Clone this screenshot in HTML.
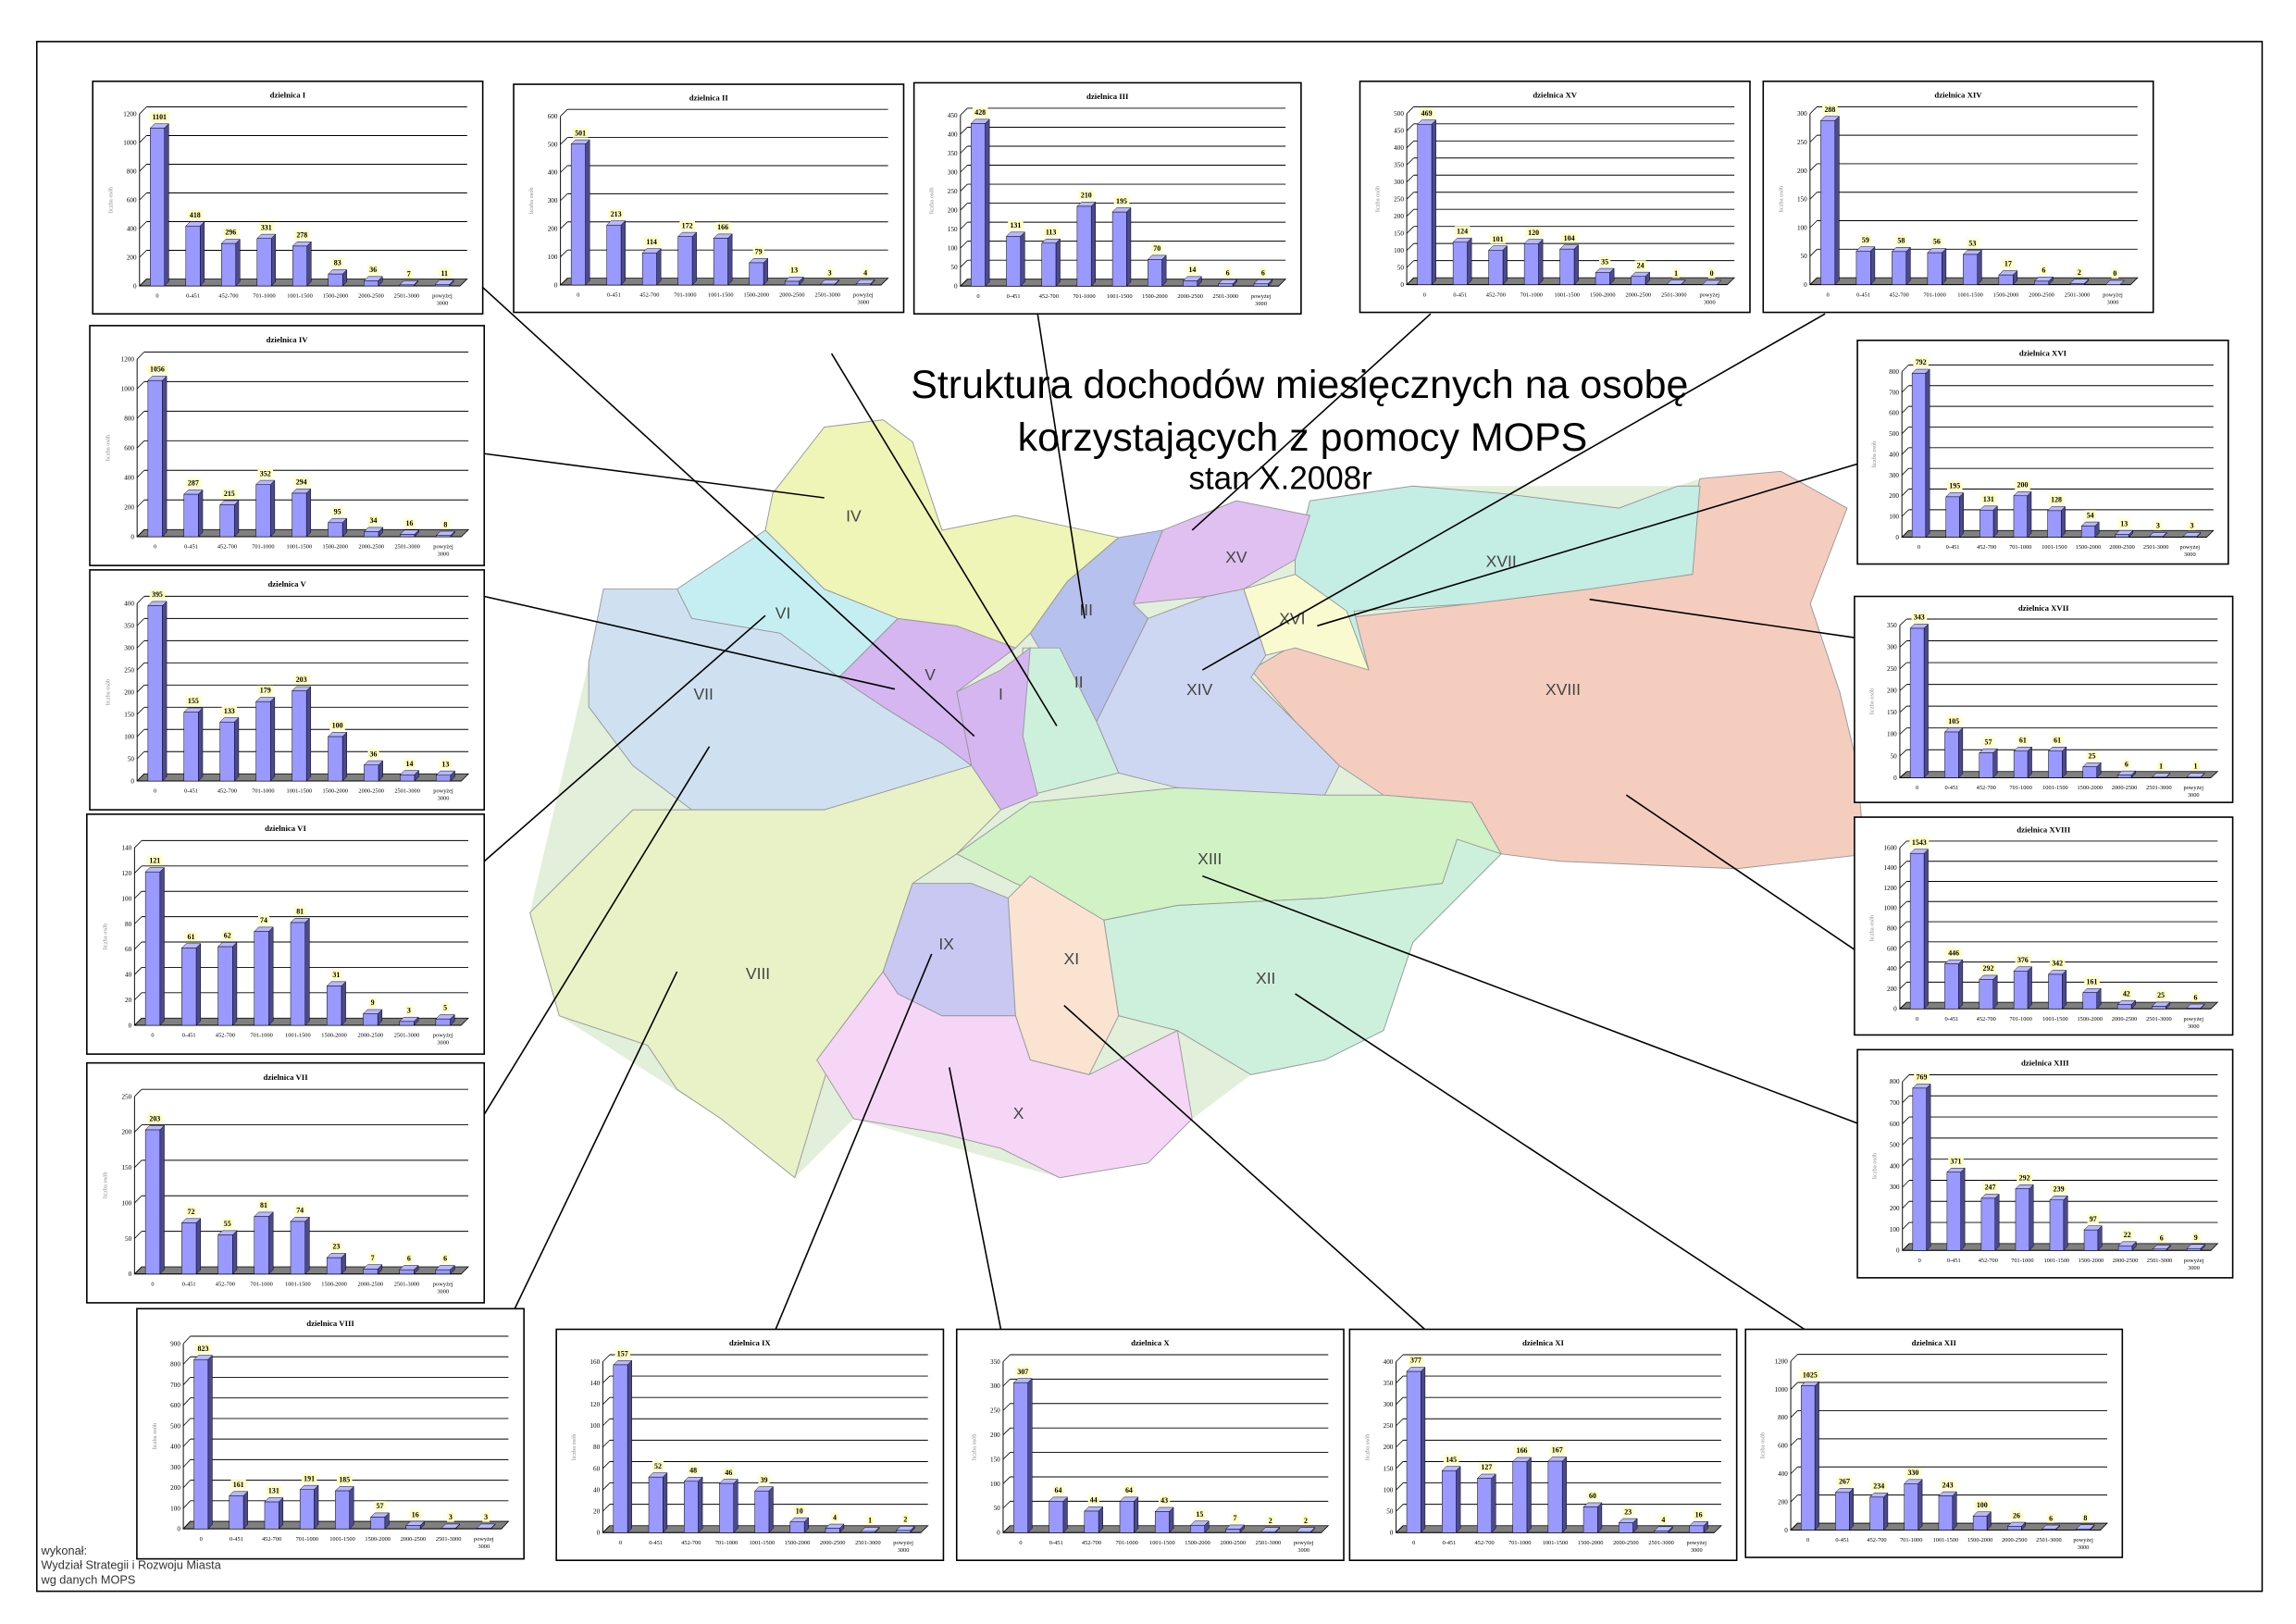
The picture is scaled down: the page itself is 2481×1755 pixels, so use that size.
<!DOCTYPE html>
<html><head><meta charset="utf-8">
<style>
html,body{margin:0;padding:0;background:#fff;}
svg{display:block;}
</style></head>
<body>
<svg id="s" xmlns="http://www.w3.org/2000/svg" width="2481" height="1755" viewBox="0 0 1560 1103">
<rect x="0" y="0" width="1560" height="1103" fill="#fff"/>
<rect x="25" y="28" width="1512" height="1053" fill="none" stroke="#000" stroke-width="1"/>
<polygon points="360,620 400,450 410,400 460,400 520,360 525,335 560,290 600,285 620,300 640,360 690,350 760,365 790,360 840,340 890,350 960,330 1140,330 1155,325 1210,320 1255,345 1230,410 1250,470 1270,580 1020,580 960,640 940,700 850,730 810,760 780,790 720,800 580,760 540,800 490,760 380,690" fill="#e2efda" stroke="none"/>
<g id="map" stroke="#999" stroke-width="0.6"></g>
<g id="lines" stroke="#000" stroke-width="1"></g>
<g font-family="Liberation Sans, sans-serif" fill="#000" text-anchor="middle">
<text x="883" y="270" font-size="27">Struktura dochodów miesięcznych na osobę</text>
<text x="885" y="306" font-size="27">korzystających z pomocy MOPS</text>
<text x="870" y="332" font-size="22">stan X.2008r</text>
</g>
<g id="charts"></g>
<g font-family="Liberation Sans, sans-serif" font-size="8" fill="#333">
<text x="28" y="1056">wykonał:</text>
<text x="28" y="1066">Wydział Strategii i Rozwoju Miasta</text>
<text x="28" y="1076">wg danych MOPS</text>
</g>
</svg>
<script>
var NS="http://www.w3.org/2000/svg";
function el(t,a,p,txt){var e=document.createElementNS(NS,t);for(var k in a)e.setAttribute(k,a[k]);if(txt!==undefined)e.textContent=txt;p.appendChild(e);return e;}
var map=document.getElementById('map');
var D=[
["#f4cdbf","850,455 910,420 1000,410 1080,400 1140,390 1155,325 1210,320 1255,345 1230,410 1250,470 1262,520 1265,560 1270,580 1180,590 1060,585 1020,580 1000,545 940,540 910,520 880,490","XVIII",1062,472],
["#c4ede4","880,380 890,340 960,330 1020,335 1100,345 1140,330 1155,330 1150,390 1080,400 1000,410 920,415 930,455 915,420 880,400","XVII",1020,385],
["#fafad0","845,400 880,390 915,415 930,455 880,440 860,445","XVI",878,424],
["#e0c0f0","770,410 790,360 840,340 890,350 880,380 845,400 820,405","XV",840,382],
["#cdd7f1","780,420 820,405 845,400 860,445 850,460 880,490 910,520 900,540 850,545 800,535 760,525 745,490 760,460","XIV",815,472],
["#b7c1ee","700,430 725,395 760,365 790,360 770,410 780,420 760,460 745,490 730,480","III",738,418],
["#cdf0dc","695,440 720,440 745,490 760,525 700,540 690,510","II",733,467],
["#d6b6f0","650,470 680,455 700,440 695,500 705,540 680,550 660,520","I",680,475],
["#d6b6f0","570,460 610,420 650,425 690,440 650,470 660,520 640,505 600,480","V",632,462],
["#eef5b6","525,335 560,290 600,285 620,300 640,360 690,350 760,365 725,395 700,430 690,440 650,425 610,420 560,400 520,360","IV",580,354],
["#c5eef3","460,400 520,360 560,400 610,420 570,460 530,430 470,420","VI",532,420],
["#cfe1f0","400,450 410,400 460,400 470,420 530,430 570,460 600,480 640,505 660,520 680,550 650,550 560,550 470,550 430,520 400,480","VII",478,475],
["#e8f2c6","360,620 390,590 430,550 560,550 660,520 680,550 650,580 620,600 600,660 570,700 555,750 540,800 490,760 460,740 440,710 380,690","VIII",515,665],
["#d0f2c4","650,580 700,545 800,535 900,540 940,540 1000,545 1020,580 980,600 900,610 800,615 750,625 690,600","XIII",822,587],
["#cdf0dc","750,625 800,615 900,610 980,600 990,570 1020,580 960,640 940,700 900,720 850,730 800,700 760,690","XII",860,668],
["#c9c8f2","600,660 620,600 660,600 685,610 690,690 640,690 610,675","IX",643,645],
["#fbe3d2","685,610 700,595 750,625 760,690 740,730 700,720 690,690","XI",728,655],
["#f5d6f6","555,720 570,700 600,660 610,675 640,690 690,690 700,720 740,730 800,700 810,760 780,790 720,800 680,780 640,770 580,760","X",692,760]
];
D.forEach(function(d){el('polygon',{points:d[1],fill:d[0]},map);});
D.forEach(function(d){el('text',{x:d[3],y:d[4],'font-family':'Liberation Sans, sans-serif','font-size':11,fill:'#444',stroke:'none','text-anchor':'middle'},map,d[2]);});
var L=[[328,195,662,500],[565,240,718,493],[705,213,737,420],[972,213,810,360],[1240,213,817,455],[329,308,560,338],[1262,315,895,425],[329,405,608,468],[1260,433,1080,407],[329,585,520,418],[1260,645,1105,540],[329,757,482,507],[1262,763,817,595],[330,930,460,660],[527,903,633,648],[680,903,645,725],[968,903,723,683],[1226,903,880,675]];
var lg=document.getElementById('lines');
L.forEach(function(l){el('line',{x1:l[0],y1:l[1],x2:l[2],y2:l[3]},lg);});
var C=[
["I",63,55,265,158,1200,200,[1101,418,296,331,278,83,36,7,11]],
["II",349,57,265,155,600,100,[501,213,114,172,166,79,13,3,4]],
["III",621,56,263,157,450,50,[428,131,113,210,195,70,14,6,6]],
["XV",924,55,265,157,500,50,[469,124,101,120,104,35,24,1,0]],
["XIV",1198,55,265,157,300,50,[288,59,58,56,53,17,6,2,0]],
["IV",61,221,268,163,1200,200,[1056,287,215,352,294,95,34,16,8]],
["XVI",1262,231,252,152,800,100,[792,195,131,200,128,54,13,3,3]],
["V",61,387,268,163,400,50,[395,155,133,179,203,100,36,14,13]],
["XVII",1260,405,257,140,350,50,[343,105,57,61,61,25,6,1,1]],
["VI",59,553,270,163,140,20,[121,61,62,74,81,31,9,3,5]],
["XVIII",1260,555,257,148,1600,200,[1543,446,292,376,342,161,42,25,6]],
["VII",59,722,270,163,250,50,[203,72,55,81,74,23,7,6,6]],
["XIII",1262,713,255,155,800,100,[769,371,247,292,239,97,22,6,9]],
["VIII",93,889,263,170,900,100,[823,161,131,191,185,57,16,3,3]],
["IX",378,903,263,157,160,20,[157,52,48,46,39,10,4,1,2]],
["X",650,903,263,157,350,50,[307,64,44,64,43,15,7,2,2]],
["XI",917,903,263,157,400,50,[377,145,127,166,167,60,23,4,16]],
["XII",1186,903,256,155,1200,200,[1025,267,234,330,243,100,26,6,8]]
];
var cats=["0","0-451","452-700","701-1000","1001-1500","1500-2000","2000-2500","2501-3000","powyżej"];
var cg=document.getElementById('charts');
C.forEach(function(c){
 var x=c[1],y=c[2],w=c[3],h=c[4],mx=c[5],st=c[6],v=c[7];
 var g=el('g',{'font-family':'Liberation Serif, serif'},cg);
 el('rect',{x:x,y:y,width:w,height:h,fill:'#fff',stroke:'#000','stroke-width':1},g);
 el('text',{x:x+w*0.5,y:y+h*0.07,'font-size':5.5,'font-weight':'bold','text-anchor':'middle'},g,'dzielnica '+c[0]);
 var l=x+0.12*w,r=x+0.96*w,t=y+0.14*h,b=y+0.88*h,dx=0.018*w,dy=-0.03*h;
 function Y(val){return b-(b-t)*val/mx;}
 el('polygon',{points:[l,b,l+dx,b+dy,r,b+dy,r-dx,b].join(' '),fill:'#808080',stroke:'#000','stroke-width':0.5},g);
 for(var tv=0;tv<=mx+0.001;tv+=st){
  var yy=Y(tv);
  if(tv>0) el('line',{x1:l+dx,y1:yy+dy,x2:r,y2:yy+dy,stroke:'#000','stroke-width':0.6},g);
  el('line',{x1:l,y1:yy,x2:l+dx,y2:yy+dy,stroke:'#000','stroke-width':0.5},g);
  el('text',{x:l-2,y:yy+1.5,'font-size':4.5,'text-anchor':'end'},g,tv);
 }
 el('line',{x1:l,y1:b,x2:l,y2:t,stroke:'#000','stroke-width':0.6},g);
 el('line',{x1:l,y1:b,x2:r-dx,y2:b,stroke:'#000','stroke-width':0.6},g);
 el('text',{x:x+0.05*w,y:(t+b)/2,'font-size':4,fill:'#888','text-anchor':'middle',transform:'rotate(-90 '+(x+0.05*w)+' '+((t+b)/2)+')'},g,'liczba osób');
 var sw=(r-dx-l)/9,bw=sw*0.4;
 v.forEach(function(val,i){
  var cx=l+sw*(i+0.5),bx=cx-bw/2,by=Y(Math.min(val,mx*1.0));
  var bd=bw*0.3,bdy=-bw*0.3;
  el('polygon',{points:[bx+bw,b,bx+bw+bd,b+bdy,bx+bw+bd,by+bdy,bx+bw,by].join(' '),fill:'#4a4a8c',stroke:'#000','stroke-width':0.3},g);
  el('polygon',{points:[bx,by,bx+bd,by+bdy,bx+bw+bd,by+bdy,bx+bw,by].join(' '),fill:'#b8b8ff',stroke:'#000','stroke-width':0.3},g);
  el('rect',{x:bx,y:by,width:bw,height:b-by,fill:'#9999ff',stroke:'#000','stroke-width':0.3},g);
  var ly=by+bdy-3;
  var s=String(val),tw=s.length*2.8+2;
  el('rect',{x:cx-tw/2+bd/2,y:ly-5,width:tw,height:6.5,fill:'#ffffc0'},g);
  el('text',{x:cx+bd/2,y:ly,'font-size':5,'font-weight':'bold','text-anchor':'middle'},g,s);
  el('text',{x:cx,y:b+8,'font-size':4,'text-anchor':'middle'},g,cats[i]);
  if(i==8) el('text',{x:cx,y:b+13,'font-size':4,'text-anchor':'middle'},g,'3000');
 });
});
</script>
</body></html>
